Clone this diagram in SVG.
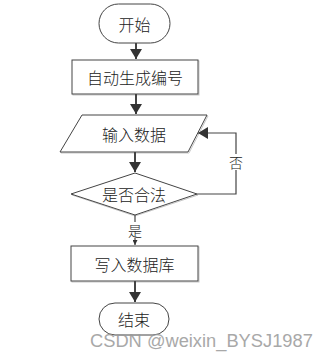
<svg xmlns="http://www.w3.org/2000/svg" width="330" height="358" viewBox="0 0 330 358">
<defs>
<marker id="ah" markerWidth="10" markerHeight="12" refX="10" refY="6" orient="auto" markerUnits="userSpaceOnUse">
<path d="M0,0 L10,6 L0,12 Z" fill="#333"/>
</marker>
<marker id="ahs" markerWidth="5" markerHeight="5" refX="5" refY="2.5" orient="auto" markerUnits="userSpaceOnUse">
<path d="M0,0 L5,2.5 L0,5 Z" fill="#333"/>
</marker>
</defs>
<style>
.shape{fill:#fff;stroke:#444;stroke-width:1}
.shadow{fill:none;stroke:#c8c8c8;stroke-width:1}
.t{font-family:"Noto Sans CJK SC","Liberation Sans",sans-serif;font-size:16px;font-weight:300;fill:#222;text-anchor:middle;dominant-baseline:central}
.c{fill:none;stroke:#444;stroke-width:2}
.c1{fill:none;stroke:#444;stroke-width:1.2}
</style>
<rect width="330" height="358" fill="#fff"/>
<g id="start">
<rect class="shape" x="99" y="4" width="71" height="39" rx="19.5"/>
<text class="t" x="134.5" y="23.5">开始</text>
</g>
<g id="gen">
<rect class="shadow" x="73" y="61" width="126" height="34"/>
<rect class="shape" x="72" y="60" width="126" height="34"/>
<text class="t" x="135" y="77">自动生成编号</text>
</g>
<g id="input">
<polygon class="shadow" points="83,116 208,116 189,153 61,153"/>
<polygon class="shape" points="82,115 207,115 188,152 60,152"/>
<text class="t" x="134" y="133.5">输入数据</text>
</g>
<g id="check">
<polygon class="shadow" points="135,174 198,195 135,216 72,195"/>
<polygon class="shape" points="135,173 197,194 135,215 71,194"/>
<text class="t" x="134" y="194">是否合法</text>
</g>
<g id="write">
<rect class="shadow" x="72" y="247" width="127" height="35"/>
<rect class="shape" x="71" y="246" width="127" height="35"/>
<text class="t" x="134.5" y="263.5">写入数据库</text>
</g>
<g id="end">
<rect class="shape" x="99" y="303" width="70" height="32" rx="16"/>
<text class="t" x="134" y="319">结束</text>
</g>
<g id="connectors">
<line class="c" x1="136" y1="43" x2="136" y2="59" marker-end="url(#ah)"/>
<line class="c" x1="136" y1="94" x2="136" y2="114" marker-end="url(#ah)"/>
<line class="c" x1="135" y1="152" x2="135" y2="172" marker-end="url(#ah)"/>
<polyline class="c1" points="197,194 236,194 236,133 198,133" marker-end="url(#ah)"/>
<rect x="229" y="154" width="14" height="16" fill="#fff"/>
<text class="t" x="236" y="162" style="font-size:14px">否</text>
<line class="c1" x1="135" y1="215" x2="135" y2="245" marker-end="url(#ahs)"/>
<rect x="127" y="222" width="16" height="16" fill="#fff"/>
<text class="t" x="135" y="230" style="font-size:14px">是</text>
<line class="c" x1="135" y1="281" x2="135" y2="302" marker-end="url(#ah)"/>
</g>
<text x="90" y="347" style="font-family:'Liberation Sans',Arial,sans-serif;font-size:18.3px;fill:#9a9a9a;opacity:0.85">CSDN @weixin_BYSJ1987</text>
</svg>
